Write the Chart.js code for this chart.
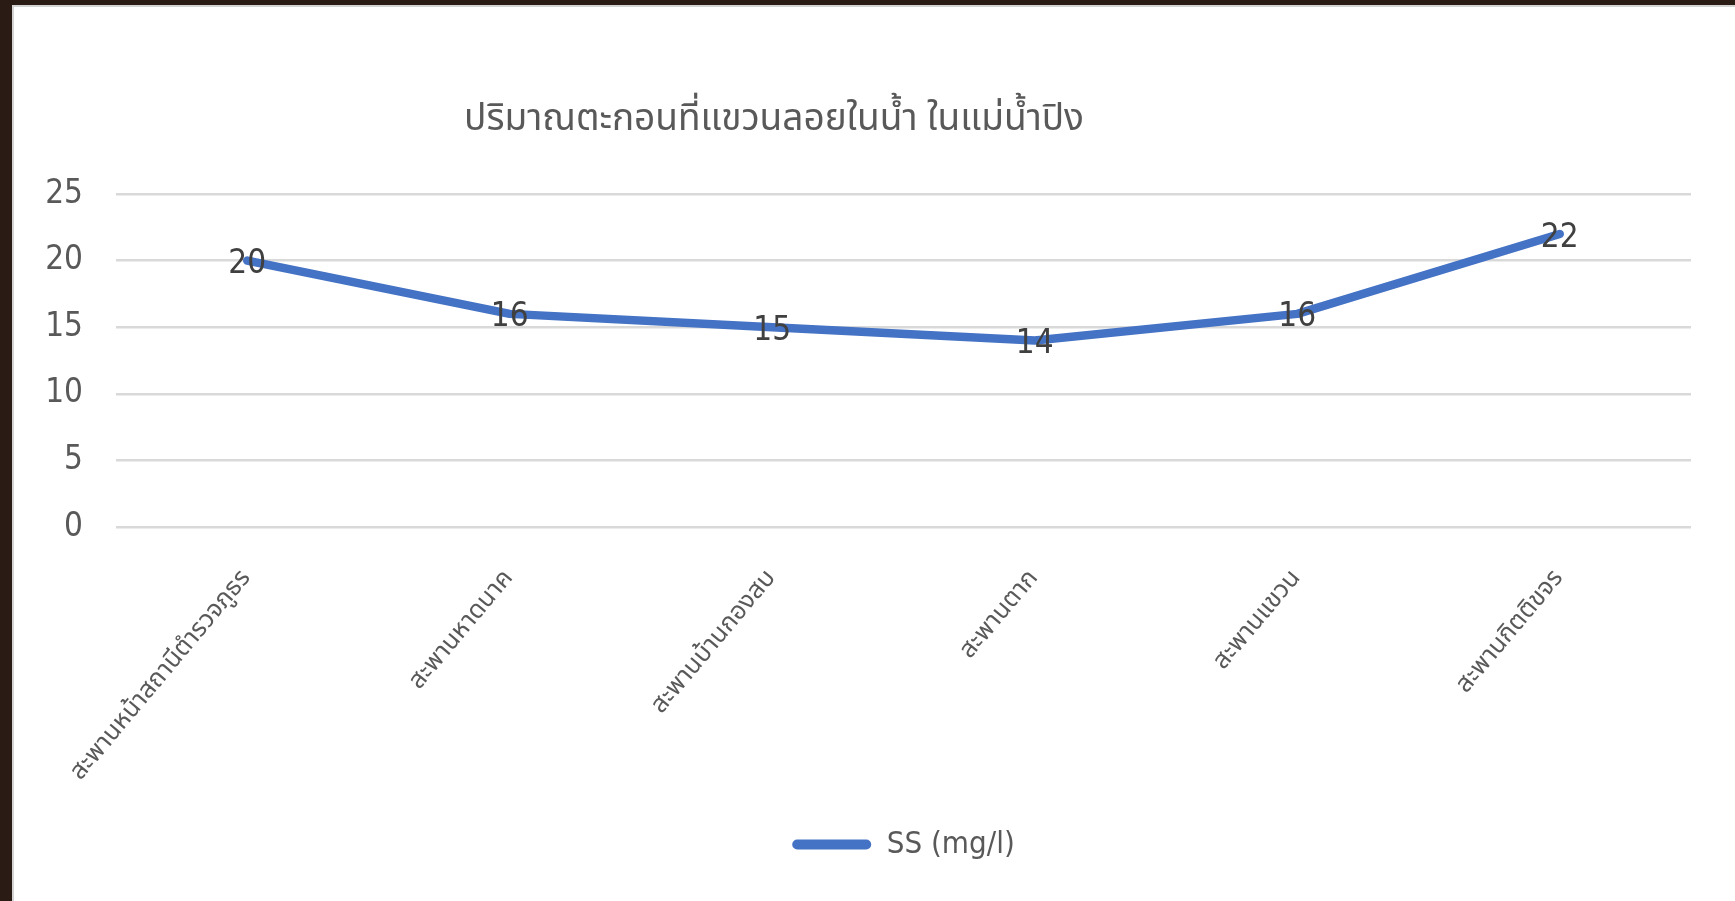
<!DOCTYPE html>
<html>
<head>
<meta charset="utf-8">
<script src="https://cdn.jsdelivr.net/npm/chart.js@4.4.1/dist/chart.umd.min.js"></script>
<style>
  html, body { margin: 0; padding: 0; }
  body { width: 1735px; height: 901px; background: #2a1c15; overflow: hidden; position: relative; }
  #wrap { position: absolute; left: 12px; top: 5px; width: 1723px; height: 896px; background: #fff; box-shadow: inset 2px 2px 0 #d4d4d4; }
</style>
</head>
<body>
<div id="wrap"><canvas id="canvas" width="1723" height="896"></canvas></div>
<script>
// chart data
const titleText = 'ปริมาณตะกอนที่แขวนลอยในน้ำ ในแม่น้ำปิง';
const stations = ['สะพานหน้าสถานีตำรวจภูธร', 'สะพานหาดนาค', 'สะพานบ้านกองสบ', 'สะพานตาก', 'สะพานแขวน', 'สะพานกิตติขจร'];
const ssValues = [20, 16, 15, 14, 16, 22];
const seriesName = 'SS (mg/l)';
const yTicks = [0, 5, 10, 15, 20, 25];

const numFont = "'Liberation Sans Narrow', 'DejaVu Sans Condensed', sans-serif";
const thaiFont = "'Noto Sans Thai', 'Noto Sans', 'DejaVu Sans', sans-serif";

// title drawn off-centre like the original
const titlePlugin = {
    id: 'offTitle',
    afterDraw(chart) {
        const c = chart.ctx;
        c.save();
        c.font = '37px ' + thaiFont;
        c.fillStyle = '#595959';
        c.textAlign = 'center';
        c.textBaseline = 'middle';
        c.fillText(titleText, 762, 118);
        c.restore();
    }
};

// value labels on each point
const valuePlugin = {
    id: 'values',
    afterDatasetsDraw(chart) {
        const c = chart.ctx;
        const meta = chart.getDatasetMeta(0);
        c.save();
        c.font = '33px ' + numFont;
        c.fillStyle = '#404040';
        c.textAlign = 'center';
        c.textBaseline = 'middle';
        meta.data.forEach(function(pt, i) {
            c.fillText(String(ssValues[i]), pt.x, pt.y + 4);
        });
        c.restore();
    }
};

const ctx = document.getElementById('canvas').getContext('2d');
const myChart = new Chart(ctx, {
    type: 'line',
    data: {
        labels: stations,
        datasets: [{
            label: seriesName,
            data: ssValues,
            borderColor: '#4472c4',
            backgroundColor: '#4472c4',
            borderWidth: 8.5,
            borderCapStyle: 'round',
            borderJoinStyle: 'round',
            pointRadius: 0,
            tension: 0
        }]
    },
    options: {
        responsive: false,
        animation: false,
        layout: { padding: { top: 189, right: 44, bottom: 31, left: 0 } },
        plugins: {
            title: { display: false },
            tooltip: { enabled: false },
            legend: {
                position: 'bottom',
                fullSize: false,
                labels: {
                    boxWidth: 79,
                    boxHeight: 10,
                    useBorderRadius: true,
                    borderRadius: 5,
                    color: '#595959',
                    font: { family: numFont, size: 31 },
                    generateLabels(chart) {
                        const items = Chart.defaults.plugins.legend.labels.generateLabels(chart);
                        items.forEach(function(it) { it.lineWidth = 0; it.fillStyle = '#4472c4'; });
                        return items;
                    }
                }
            }
        },
        scales: {
            x: {
                offset: true,
                grid: { display: false, drawTicks: false },
                border: { display: false },
                ticks: {
                    color: '#595959',
                    font: { family: thaiFont, size: 25 },
                    minRotation: 50,
                    maxRotation: 50,
                    padding: 38
                },
                afterFit(scale) { scale.height = 292; }
            },
            y: {
                min: 0,
                max: 25,
                afterBuildTicks(scale) { scale.ticks = yTicks.map(function(v) { return { value: v }; }); },
                grid: { color: '#d9d9d9', lineWidth: 2.5, drawTicks: false },
                border: { display: false },
                ticks: {
                    color: '#595959',
                    font: { family: numFont, size: 33 },
                    padding: 33
                },
                afterFit(scale) { scale.width = 104; }
            }
        }
    },
    plugins: [titlePlugin, valuePlugin]
});
</script>
</body>
</html>
